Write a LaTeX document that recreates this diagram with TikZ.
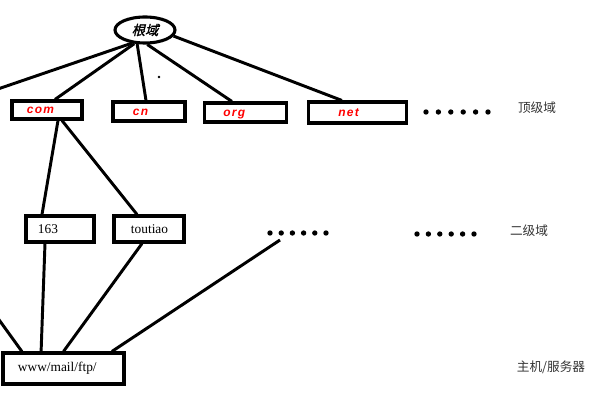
\documentclass[tikz,border=0pt]{standalone}
\usepackage{fontspec}
\usetikzlibrary{shapes.geometric}
\setmainfont{Liberation Serif}
\newfontfamily\cjk{Noto Sans CJK SC}
\newfontfamily\rootfont[FakeSlant=0.25,FakeBold=1.5]{Noto Sans CJK SC}
\newfontfamily\tldfont[LetterSpace=10]{Liberation Sans}
\begin{document}
\begin{tikzpicture}[x=0.025cm, y=-0.025cm, line width=2.1pt,
        tld/.style={draw, line width=2.2pt, inner ysep=0pt, align=left, text height=1.2ex, text depth=0pt, text=red, font=\tldfont\bfseries\itshape\fontsize{8.5}{9}\selectfont},
        sld/.style={draw, line width=2.2pt, inner ysep=0pt, align=left, font=\fontsize{9.5}{11}\selectfont},
        level/.style={text=black!80, font=\cjk\fontsize{9}{10}\selectfont}]
    \useasboundingbox (0,0) rectangle (600,400);

    \node[draw, ellipse, line width=2.2pt, minimum width=1.5cm, minimum height=0.65cm, inner sep=0pt, font=\rootfont\fontsize{9.5}{10}\selectfont] (root) at (145,30) {根域};

    \node[tld, text width=1cm, inner xsep=0.375cm, minimum height=0.45cm] (com) at (47,110) {com};
    \node[tld, text width=0.8cm, inner xsep=0.5cm, minimum height=0.475cm] (cn) at (149,111.5) {cn};
    \node[tld, text width=1.1cm, inner xsep=0.475cm, minimum height=0.475cm] (org) at (245.5,112.5) {org};
    \node[tld, text width=0.95cm, inner xsep=0.75cm, minimum height=0.525cm] (net) at (357.5,112.5) {net};

    \node[sld, text width=1.1cm, inner xsep=0.3cm, minimum height=0.65cm] (n163) at (60,229) {163};
    \node[sld, text width=0.9cm, inner xsep=0.425cm, minimum height=0.65cm] (toutiao) at (149,229) {toutiao};
    \node[sld, text width=2.275cm, inner xsep=0.375cm, minimum height=0.775cm] (host) at (63.5,368.5) {www/mail/ftp/};

    \node[level] (lvltop) at (537,108) {顶级域};
    \node[level] (lvlsecond) at (529,231) {二级域};
    \node[level] (lvlhost) at (551,367) {主机/服务器};

    % dots
    \foreach \i in {0,...,5} \fill (426+12.4*\i,112) circle (1.9pt);
    \foreach \i in {0,...,5} \fill (270+11.2*\i,233) circle (1.9pt);
    \foreach \i in {0,...,5} \fill (417+11.4*\i,234) circle (1.9pt);
    \fill (159,77) circle (0.9pt);

    \coordinate (leftA) at (-5,90);
    \coordinate (leftB) at (-3,317);
    \coordinate (dotsmid) at (280,240);

    % root -> top level
    \draw (root.225) -- (leftA);
    \draw (root.232) -- ([xshift=0.2cm]com.north);
    \draw (root.241) -- ([xshift=-0.075cm]cn.north);
    \draw (root.279) -- ([xshift=-0.34cm]org.north);
    \draw (root.348) -- ([xshift=-0.39cm]net.north);

    % com -> second level
    \draw ([xshift=0.275cm]com.south) -- ([xshift=-0.45cm]n163.north);
    \draw ([xshift=0.375cm]com.south) -- ([xshift=-0.3cm]toutiao.north);

    % second level -> host
    \draw (leftB) -- ([xshift=-1.04cm]host.north);
    \draw ([xshift=-0.375cm]n163.south) -- ([xshift=-0.56cm]host.north);
    \draw ([xshift=-0.175cm]toutiao.south) -- (host.north);
    \draw (dotsmid) -- ([xshift=1.21cm]host.north);
\end{tikzpicture}
\end{document}
